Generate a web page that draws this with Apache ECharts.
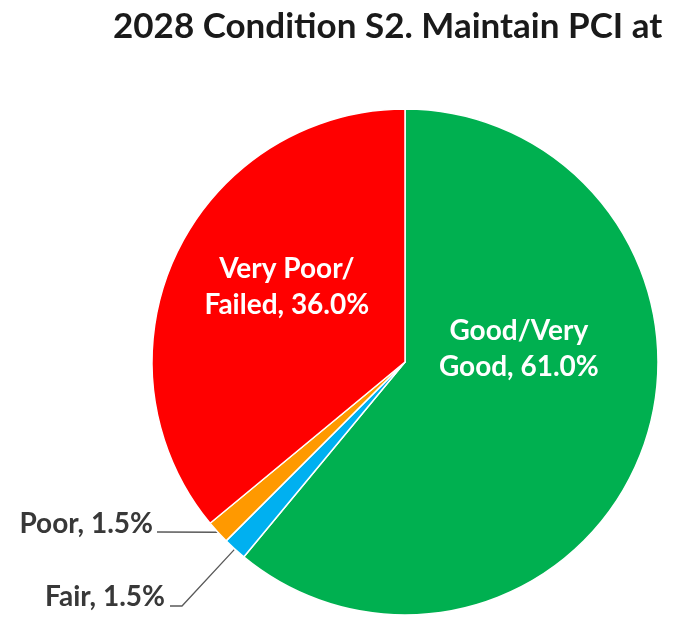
<!DOCTYPE html>
<html>
<head>
<meta charset="utf-8">
<script src="https://cdn.jsdelivr.net/npm/echarts@6/dist/echarts.min.js"></script>
<style>
  html, body { margin: 0; padding: 0; background: #fff; }
  #chart { width: 673px; height: 627px; }
</style>
</head>
<body>
<div id="chart"></div>
<script>
var titleText = '2028 Condition S2. Maintain PCI at';
var categories = ['Good/Very\nGood', 'Fair', 'Poor', 'Very Poor/\nFailed'];
var shares = [61.0, 1.5, 1.5, 36.0];

var sliceColors = ['#00B050', '#00B0F0', '#FF9900', '#FF0000'];
// where the labels sit: inside ones get a nudge, outside ones an anchor point
var insideNudge = { 0: [-8, -57], 3: [-1, -20] };
var outsideSpot = { 1: [165, 597], 2: [153, 524] };

var chart = echarts.init(document.getElementById('chart'));

var pieData = categories.map(function (name, i) {
    var inside = insideNudge[i] !== undefined;
    return {
        name: name,
        value: shares[i],
        itemStyle: { color: sliceColors[i] },
        label: inside ? {
            position: 'inside',
            color: '#fff',
            lineHeight: 36
        } : {
            position: 'outside',
            color: '#383838'
        },
        labelLine: { show: !inside }
    };
});

chart.setOption({
    animation: false,
    title: {
        text: titleText,
        left: 108,
        top: 4,
        textStyle: { fontFamily: 'Lato', fontWeight: 'bold', fontSize: 35, color: '#1a1a1a' }
    },
    series: [{
        type: 'pie',
        center: [405, 362],
        radius: 253,
        startAngle: 90,
        clockwise: true,
        avoidLabelOverlap: false,
        itemStyle: { borderColor: '#fff', borderWidth: 1.5 },
        label: {
            fontFamily: 'Lato',
            fontWeight: 'bold',
            fontSize: 28,
            formatter: function (p) { return p.name + ', ' + p.value.toFixed(1) + '%'; }
        },
        labelLine: {
            length: 10,
            length2: 10,
            lineStyle: { color: '#595959', width: 1.3 }
        },
        labelLayout: function (p) {
            var i = p.dataIndex;
            if (insideNudge[i]) {
                return { dx: insideNudge[i][0], dy: insideNudge[i][1] };
            }
            var spot = outsideSpot[i];
            var anchor = p.labelLinePoints ? p.labelLinePoints[0] : [spot[0] + 60, spot[1]];
            var pts = i === 1
                ? [anchor, [spot[0] + 17, spot[1] + 9], [spot[0] + 5, spot[1] + 9]]
                : [anchor, [spot[0] + 4, spot[1] + 8], [spot[0] + 4, spot[1] + 8]];
            return {
                x: spot[0],
                y: spot[1],
                align: 'right',
                verticalAlign: 'middle',
                labelLinePoints: pts
            };
        },
        data: pieData
    }]
});
</script>
</body>
</html>
